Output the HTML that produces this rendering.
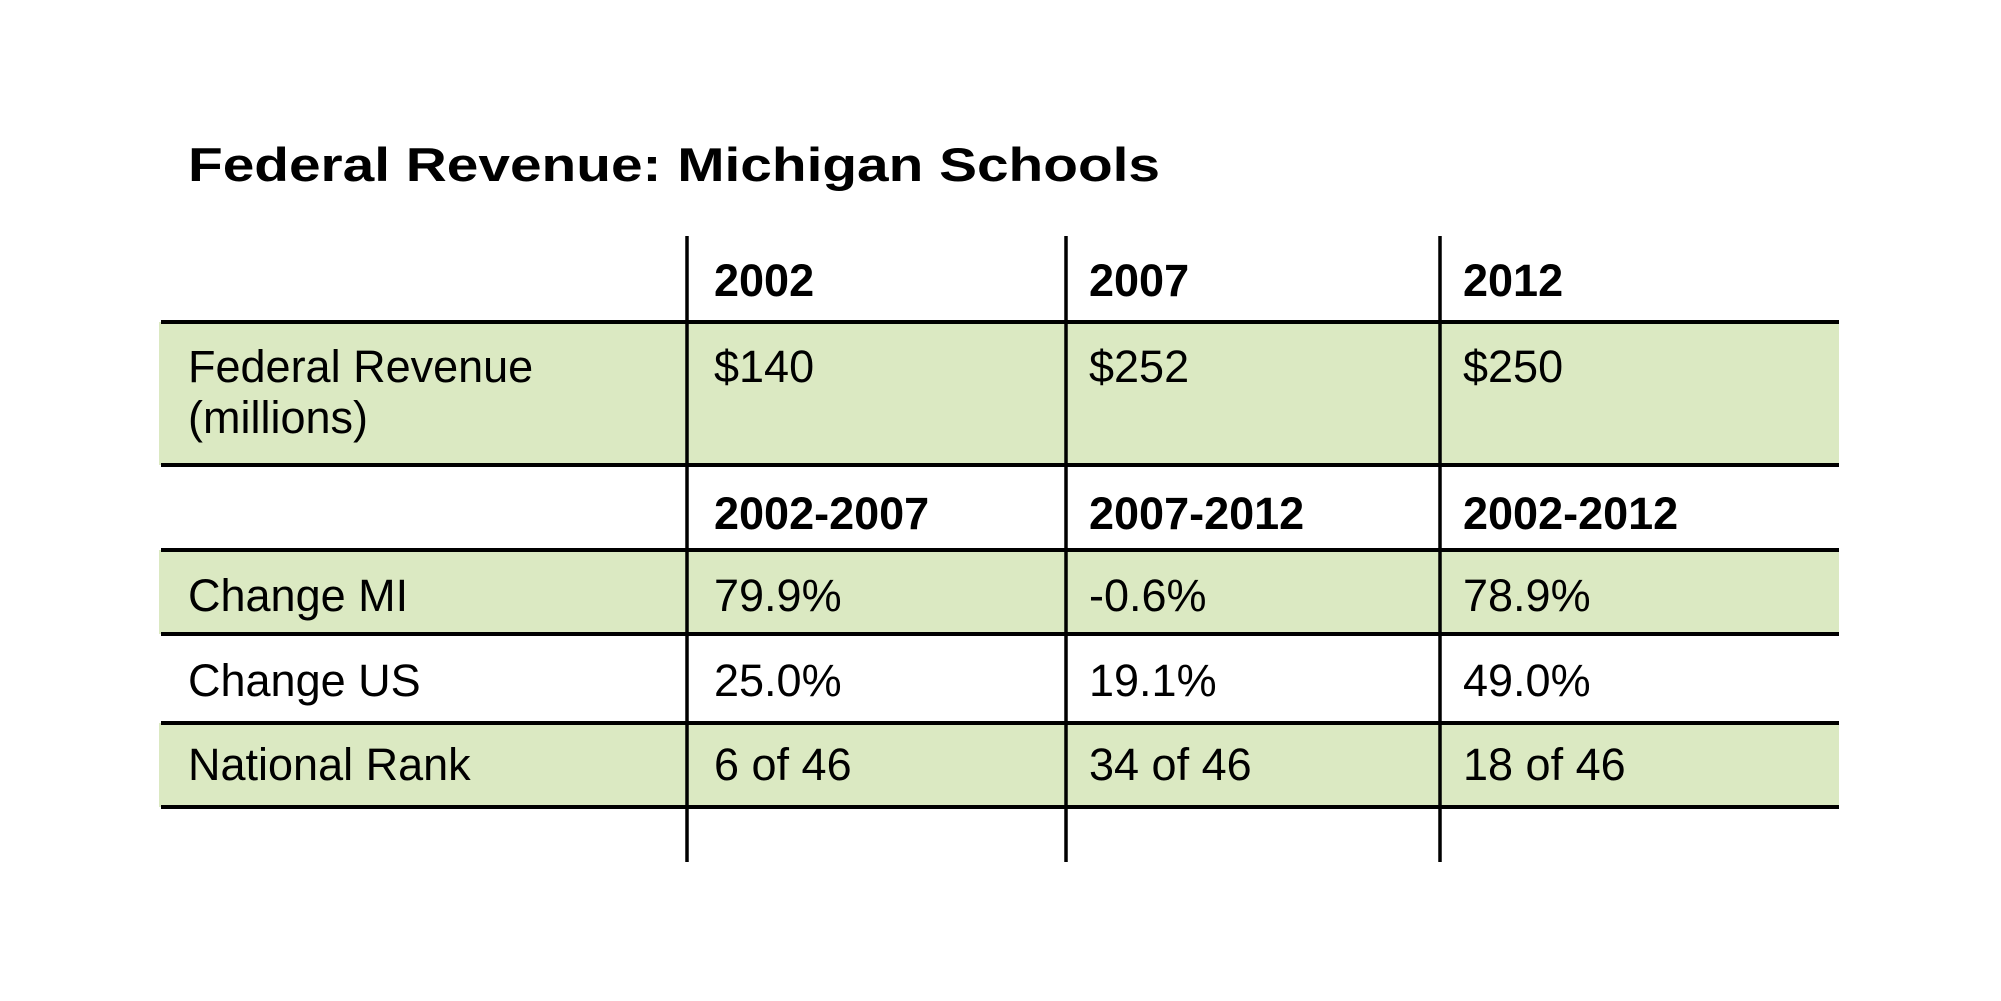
<!DOCTYPE html>
<html><head><meta charset="utf-8"><style>
html,body{margin:0;padding:0;background:#fff;}
svg{display:block;font-family:"Liberation Sans",Arial,sans-serif;}
</style></head><body>
<svg width="2001" height="1001" viewBox="0 0 2001 1001">
<rect width="2001" height="1001" fill="#fff"/>
<text x="188" y="181" font-size="47" font-weight="bold" textLength="972" lengthAdjust="spacingAndGlyphs">Federal Revenue: Michigan Schools</text>
<g id="bands"></g>
<g id="lines"></g>
<g id="cells"></g>
</svg>
<script>
const headers1 = ["2002", "2007", "2012"];
const revenue = ["$140", "$252", "$250"];
const headers2 = ["2002-2007", "2007-2012", "2002-2012"];
const changeMI = ["79.9%", "-0.6%", "78.9%"];
const changeUS = ["25.0%", "19.1%", "49.0%"];
const nationalRank = ["6 of 46", "34 of 46", "18 of 46"];

const NS = "http://www.w3.org/2000/svg";
const colX = [188, 714, 1089, 1463];
const hLines = [322, 465, 550, 634, 723, 807];
const vLines = [687, 1066, 1440];
function mk(tag, attrs, parent){const e=document.createElementNS(NS,tag);for(const k in attrs)e.setAttribute(k,attrs[k]);parent.appendChild(e);return e;}
const bands=document.getElementById('bands'), lines=document.getElementById('lines'), cells=document.getElementById('cells');
[[322,465],[550,634],[723,807]].forEach((b,i)=>{
  const r=mk('rect',{x:159,y:b[0],width:1680,height:b[1]-b[0],fill:'#dbe9c2'},bands);
  
  
});
hLines.forEach(y=>{
  const l=mk('line',{x1:161,x2:1839,y1:y,y2:y,stroke:'#000','stroke-width':4},lines);
  
  
});
vLines.forEach(x=>{
  const l=mk('line',{x1:x,x2:x,y1:236,y2:862,stroke:'#000','stroke-width':3.5},lines);
  
  
});
function row(label, vals, y, bold, name){
  if(label){
    const t=mk('text',{x:colX[0],y:y,'font-size':45},cells);
    t.textContent=label;
    
    
  }
  vals.forEach((v,i)=>{
    const t=mk('text',{x:colX[i+1],y:y,'font-size':45,'font-weight':bold?'bold':'normal'},cells);
    t.textContent=v;
    
    
  });
}
row(null, headers1, 296, true, 'year-header');
row('Federal Revenue', revenue, 382, false, 'federal-revenue');
const m=mk('text',{x:colX[0],y:433,'font-size':45},cells);
m.textContent='(millions)';


row(null, headers2, 529, true, 'period-header');
row('Change MI', changeMI, 611, false, 'change-mi');
row('Change US', changeUS, 696, false, 'change-us');
row('National Rank', nationalRank, 780, false, 'national-rank');
</script>
</body></html>
